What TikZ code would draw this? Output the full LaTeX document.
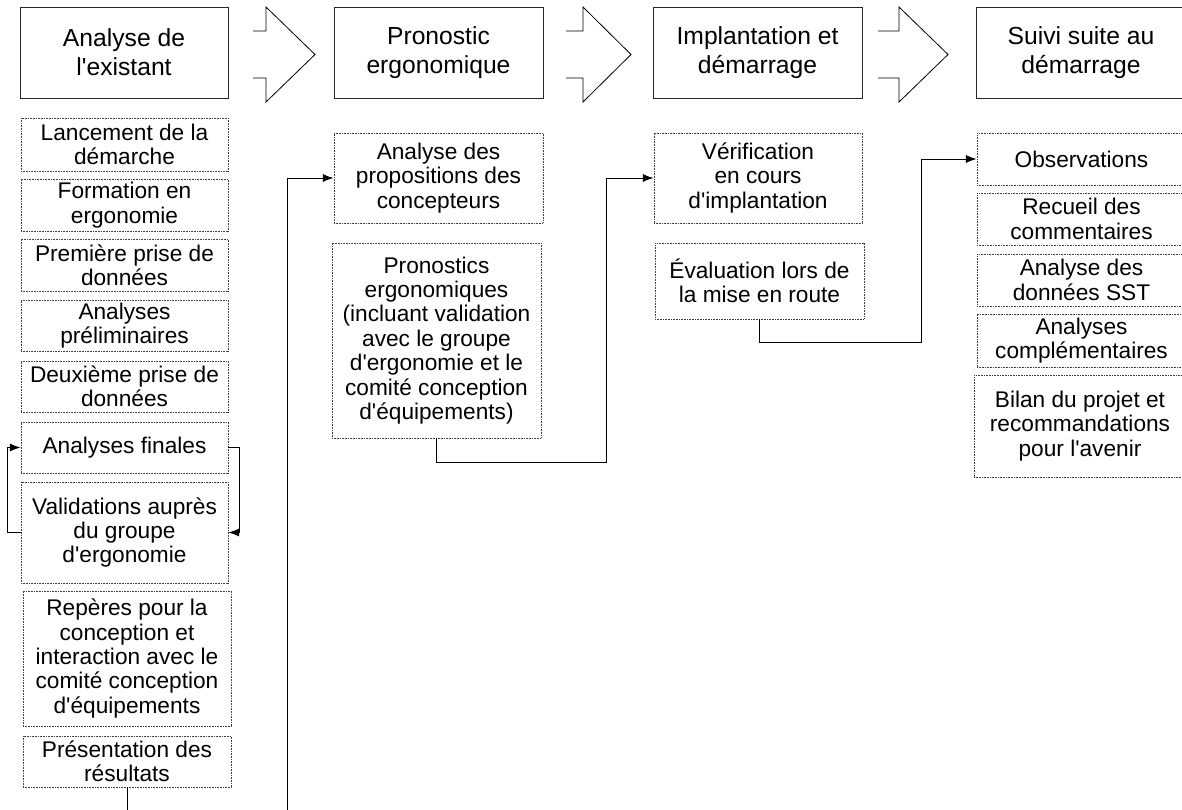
\documentclass[tikz,border=0pt]{standalone}
\usepackage{fontspec}
\setmainfont{Liberation Sans}
\usetikzlibrary{arrows.meta}
\newcommand\q{\textquotesingle}
\begin{document}
\begin{tikzpicture}[x=0.75pt,y=-0.75pt,
  wd/.style={minimum width=#1*0.75pt},
  ht/.style={minimum height=#1*0.75pt},
  hbox/.style={draw=black!85,line width=0.75pt,inner sep=0pt,align=center,
    font=\fontsize{18.5}{21.75}\selectfont},
  lbox/.style={draw=black!75,line width=0.6pt,dash pattern=on 0.6pt off 0.6pt,
    inner sep=0pt,align=center,font=\fontsize{17}{18.3}\selectfont},
  conn/.style={draw=black,line width=0.75pt},
  arr/.style={conn,-{Latex[length=8pt,width=6pt]}},
  blockarr/.style={draw=black,line width=0.6pt,line join=miter}]
\useasboundingbox (0,0) rectangle (1182,810);

% header boxes
\node[hbox,wd=208,ht=91] (H1) at (124,52.5) {Analyse de\\l\q existant};
\node[hbox,wd=209,ht=91] (H2) at (438.5,52.5) {Pronostic\\ergonomique};
\node[hbox,wd=209,ht=91] (H3) at (757.5,52.5) {Implantation et\\démarrage};
\node[hbox,wd=210,ht=91] (H4) at (1081,52.5) {Suivi suite au\\démarrage};

% block arrows between headers
\draw[blockarr] (253,31) -- (266,31) -- (266,7) -- (315,54.5) -- (266,102) -- (266,78) -- (253,78);
\draw[blockarr] (566,31) -- (583,31) -- (583,7) -- (631,54.5) -- (583,102) -- (583,78) -- (566,78);
\draw[blockarr] (878,31) -- (899,31) -- (899,7) -- (948,54.5) -- (899,102) -- (899,78) -- (878,78);

% column 1
\node[lbox,wd=207,ht=53] (L1) at (124.5,144.5) {Lancement de la\\démarche};
\node[lbox,wd=207,ht=52] (L2) at (124.5,205) {Formation en\\ergonomie};
\node[lbox,wd=207,ht=52] (L3) at (124.5,265) {Première prise de\\données};
\node[lbox,wd=207,ht=51] (L4) at (124.5,325.5) {Analyses\\préliminaires};
\node[lbox,wd=207,ht=51] (L5) at (124.5,386.5) {Deuxième prise de\\données};
\node[lbox,wd=207,ht=51] (L6) at (124.5,447.5) {Analyses finales};
\node[lbox,wd=207,ht=101] (L7) at (124.5,532.5) {Validations auprès\\du groupe\\d\q ergonomie};
\node[lbox,wd=208,ht=135] (L8) at (127,658.5) {Repères pour la\\conception et\\interaction avec le\\comité conception\\d\q équipements};
\node[lbox,wd=208,ht=51] (L9) at (127,761.5) {Présentation des\\résultats};

% column 2
\node[lbox,wd=209,ht=90] (P1) at (438.5,178) {Analyse des\\propositions des\\concepteurs};
\node[lbox,wd=209,ht=195] (P2) at (436.5,340.5) {Pronostics\\ergonomiques\\(incluant validation\\avec le groupe\\d\q ergonomie et le\\comité conception\\d\q équipements)};

% column 3
\node[lbox,wd=208,ht=90] (V1) at (758,178) {Vérification\\en cours\\d\q implantation};
\node[lbox,wd=209,ht=76] (V2) at (759.5,281) {Évaluation lors de\\la mise en route};

% column 4
\node[lbox,wd=209,ht=52] (S1) at (1081.5,159) {Observations};
\node[lbox,wd=209,ht=52] (S2) at (1081.5,219) {Recueil des\\commentaires};
\node[lbox,wd=209,ht=52] (S3) at (1081.5,280) {Analyse des\\données SST};
\node[lbox,wd=209,ht=53] (S4) at (1081.5,340.5) {Analyses\\complémentaires};
\node[lbox,wd=212,ht=102] (S5) at (1080,426) {Bilan du projet et\\recommandations\\pour l\q avenir};

% connectors
\draw[arr] (L6.east) -- ++(11,0) |- (L7.east);
\draw[arr] (L7.west) -- ++(-13,0) |- (L6.west);

\coordinate (cbot) at (127,825);
\coordinate (vbot) at (287,825);
\draw[conn] (L9.south) -- (cbot);
\draw[arr] (vbot) |- (P1.west);

\coordinate (j1) at (606,462);
\draw[arr] (P2.south) |- (j1) |- (V1.west);

\coordinate (j2) at (921,342);
\draw[arr] (V2.south) |- (j2) |- (S1.west);
\end{tikzpicture}
\end{document}
